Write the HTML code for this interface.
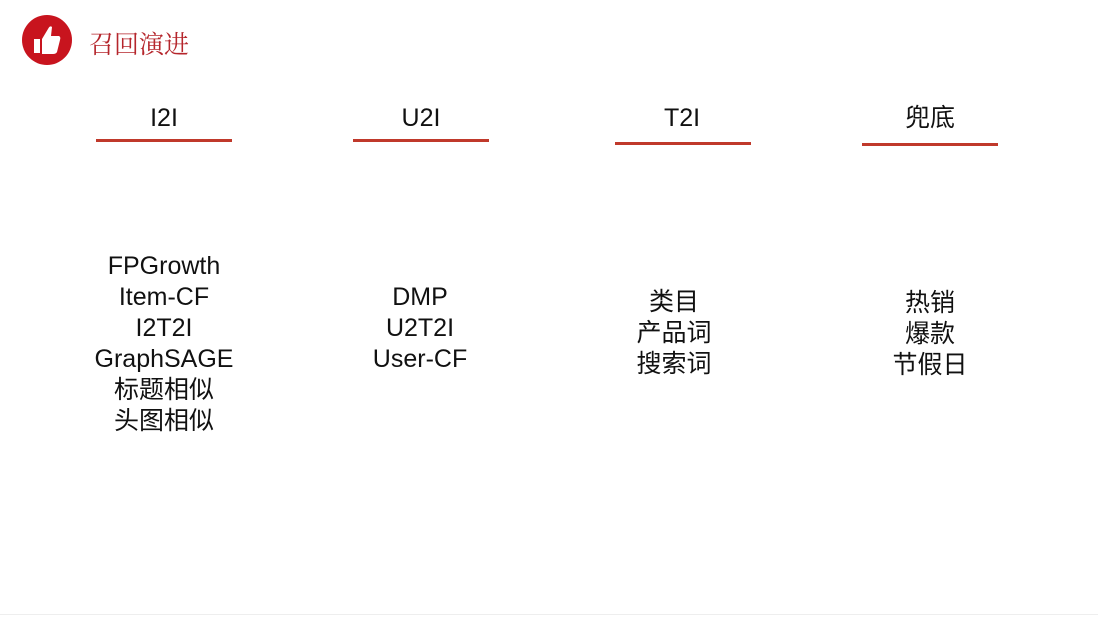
<!DOCTYPE html>
<html><head><meta charset="utf-8"><style>
body{margin:0;width:1098px;height:618px;background:#fff;position:relative;overflow:hidden;font-family:"Liberation Sans","Noto Sans CJK SC",sans-serif;color:#111}
.a{position:absolute}
.h{position:absolute;font-size:25px;text-align:center;width:200px;line-height:30px}
.l{position:absolute;height:3px;background:#c0392b;width:136px}
.b{position:absolute;font-size:25px;text-align:center;width:240px;line-height:31px}
</style></head><body>
<div class="a" style="left:22px;top:15px;width:50px;height:50px;border-radius:50%;background:#c8141e"></div>
<svg class="a" style="left:22px;top:15px" width="50" height="50" viewBox="0 0 50 50"><path d="M12 24h6v14h-6z M20 24 L26 14 Q28 10 30 12 L29 21 H37 Q39 22 38 25 L35 37 Q34 39 31 39 H20z" fill="#fff"/></svg>
<div class="a" style="left:89px;top:25px;font-size:25px;color:#b5262c;font-family:'Liberation Serif','Noto Serif CJK SC',serif">召回演进</div>
<div class="h" style="left:64px;top:103px">I2I</div><div class="l" style="left:96px;top:139px"></div>
<div class="h" style="left:321px;top:103px">U2I</div><div class="l" style="left:353px;top:139px"></div>
<div class="h" style="left:582px;top:103px">T2I</div><div class="l" style="left:615px;top:142px"></div>
<div class="h" style="left:830px;top:103px">兜底</div><div class="l" style="left:862px;top:143px"></div>
<div class="b" style="left:44px;top:251px">FPGrowth<br>Item-CF<br>I2T2I<br>GraphSAGE<br>标题相似<br>头图相似</div>
<div class="b" style="left:300px;top:282px">DMP<br>U2T2I<br>User-CF</div>
<div class="b" style="left:554px;top:287px">类目<br>产品词<br>搜索词</div>
<div class="b" style="left:810px;top:288px">热销<br>爆款<br>节假日</div>
<div class="a" style="left:0;top:614px;width:1098px;height:1px;background:#eee"></div>
</body></html>
